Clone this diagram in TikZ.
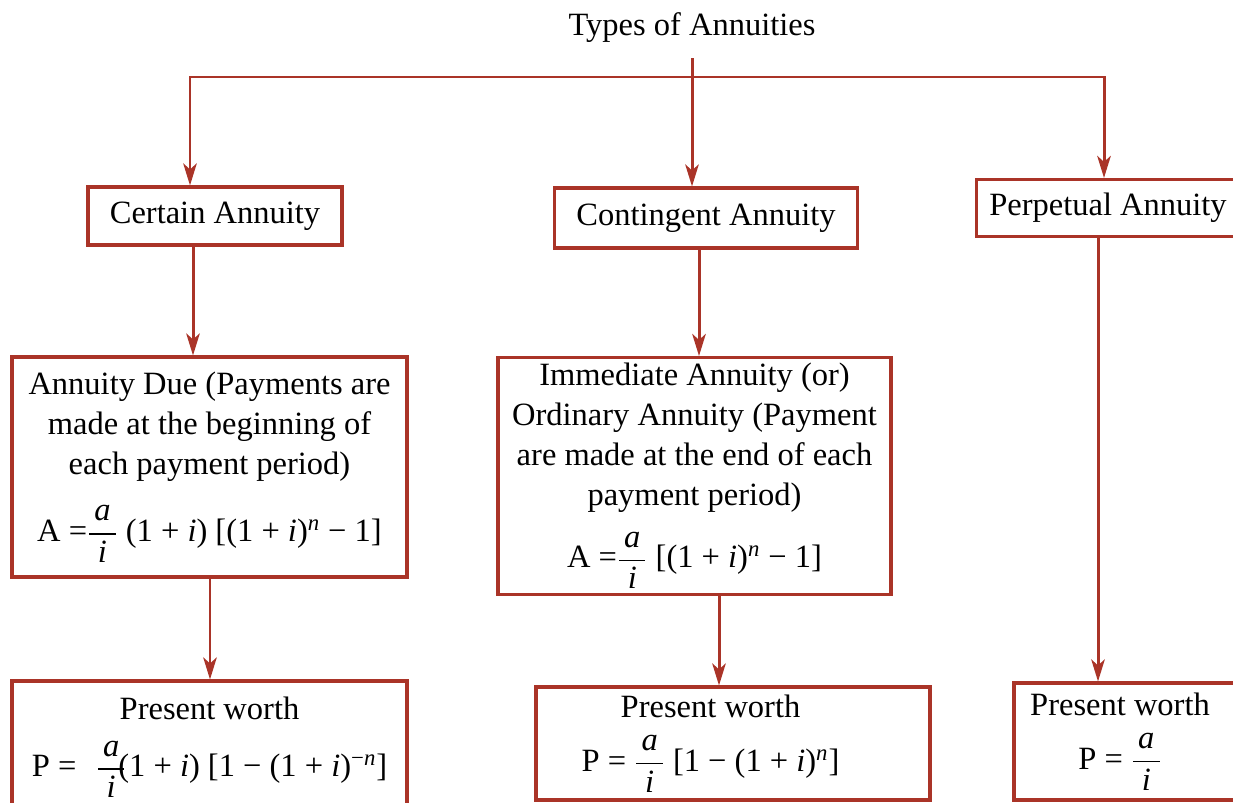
\documentclass[tikz,border=0pt]{standalone}
\usepackage{fontspec}
\setmainfont{Liberation Serif}
\usepackage{amsmath}
\usepackage{xcolor}
\usetikzlibrary{arrows.meta}

\definecolor{annred}{RGB}{170,52,40}

\newcommand{\aoveri}{$\dfrac{\,\textit{a}\,}{\textit{i}}$}

\begin{document}
\begin{tikzpicture}[x=0.02cm, y=-0.02cm,
    txt/.style={font=\fontsize{18.5}{22.7}\selectfont},
    box/.style={txt, draw=annred, line width=1.8pt, rectangle, align=center},
    flow/.style={draw=annred, line width=1.7pt, -{Stealth[length=0.44cm, width=0.27cm, inset=0.12cm]}},
    twoflow/.style={draw=annred, line width=1.7pt, {Stealth[length=0.44cm, width=0.27cm, inset=0.12cm]}-{Stealth[length=0.44cm, width=0.27cm, inset=0.12cm]}}]

        % Page size and cut at the edges
        \useasboundingbox (0,0) rectangle (1233,802);
        \clip (0,0) rectangle (1233,802);

        % Title
        \node[txt] (title) at (692,28) {Types of Annuities};

        % First row of boxes
        \node[box, minimum width=5.08cm, minimum height=1.16cm] (certain) at (215,216) {Certain Annuity};
        \node[box, minimum width=6.06cm, minimum height=1.2cm] (contingent) at (706,218) {Contingent Annuity};
        \node[box, minimum width=5.26cm, minimum height=1.14cm] (perpetual) at (1108,208) {Perpetual Annuity};

        % Second row of boxes
        \node[box, minimum width=7.9cm, minimum height=4.4cm] (due) at (209.5,467)
            {Annuity Due (Payments are\\ made at the beginning of\\ each payment period)\\[13pt]
             A =\aoveri\ (1 + \textit{i}) [(1 + \textit{i})\textsuperscript{\textit{n}} − 1]};
        \node[box, minimum width=7.86cm, minimum height=4.7cm] (immediate) at (694.5,476)
            {Immediate Annuity (or)\\ Ordinary Annuity (Payment\\ are made at the end of each\\ payment period)\\[10pt]
             A =\aoveri\ [(1 + \textit{i})\textsuperscript{\textit{n}} − 1]};

        % Present worth boxes
        \node[box, minimum width=7.9cm, minimum height=2.64cm] (pwdue) at (209.5,747)
            {Present worth\\[10pt]
             P =\hspace{0.6em}\aoveri\hspace{-0.25em}(1 + \textit{i}) [1 − (1 + \textit{i})\textsuperscript{−\textit{n}}]};
        \node[box, minimum width=7.88cm, minimum height=2.26cm] (pwimm) at (733,743.5)
            {Present worth\hspace*{0.9cm}\\[8pt]
             P = \aoveri\ [1 − (1 + \textit{i})\textsuperscript{\textit{n}}]\hspace*{0.9cm}};
        \node[box, minimum width=4.52cm, minimum height=2.34cm] (pwperp) at (1127,741.5)
            {Present worth\hspace*{0.28cm}\\[8pt] P = \aoveri\hspace*{0.28cm}};

        % Split under the title
        \coordinate (lft) at (190,77);
        \coordinate (rgt) at (1104,77);
        \draw[twoflow] (lft |- certain.north) -- (lft) -- (rgt) -- (rgt |- perpetual.north);
        \draw[flow] ([yshift=-0.18cm]title.south) -- (title.south |- contingent.north);

        % Down arrows
        \draw[flow] ([xshift=-0.44cm]certain.south) -- ([xshift=-0.44cm]certain.south |- due.north);
        \draw[flow] ([xshift=-0.14cm]contingent.south) -- ([xshift=-0.14cm]contingent.south |- immediate.north);
        \draw[flow] ([xshift=-0.2cm]perpetual.south) -- ([xshift=-0.2cm]perpetual.south |- pwperp.north);
        \draw[flow] ([xshift=0.01cm]due.south) -- ([xshift=0.01cm]due.south |- pwdue.north);
        \draw[flow] ([xshift=0.49cm]immediate.south) -- ([xshift=0.49cm]immediate.south |- pwimm.north);
    \end{tikzpicture}
\end{document}
